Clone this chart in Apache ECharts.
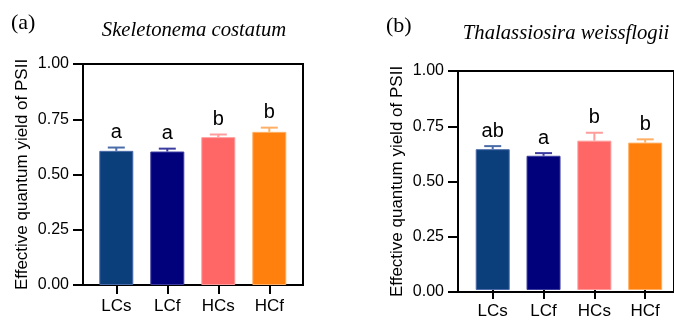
<!DOCTYPE html>
<html>
<head>
<meta charset="utf-8">
<script src="https://cdn.jsdelivr.net/npm/echarts@6/dist/echarts.min.js"></script>
<style>
  html, body { margin: 0; padding: 0; background: #fff; }
  #main { width: 674px; height: 320px; }
</style>
</head>
<body>
<div id="main"></div>
<script>
const categories = ['LCs', 'LCf', 'HCs', 'HCf'];

// (a) Skeletonema costatum
const skeletonemaMean = [0.607, 0.604, 0.669, 0.693];
const skeletonemaErr = [0.015, 0.013, 0.012, 0.019];
const skeletonemaLetters = ['a', 'a', 'b', 'b'];

// (b) Thalassiosira weissflogii
const thalassiosiraMean = [0.643, 0.613, 0.682, 0.673];
const thalassiosiraErr = [0.014, 0.012, 0.036, 0.015];
const thalassiosiraLetters = ['ab', 'a', 'b', 'b'];

const yTicks = [0, 0.25, 0.5, 0.75, 1];

const barColors = ['#0B3F7C', '#01017C', '#FF6666', '#FF800C'];
const errColors = ['#4B6CA8', '#3C3CA0', '#FF9C9C', '#FFB066'];

const SANS = 'Liberation Sans';
const SERIF = 'Liberation Serif';

const chart = echarts.init(document.getElementById('main'));

// frame grid: box + y axis; bar grid: category axis
function frameAxes(gridIndex) {
  const x = {
    gridIndex, type: 'category', data: [''],
    axisLine: { show: true, lineStyle: { color: '#000', width: 2 } },
    axisTick: { show: false }, axisLabel: { show: false }, splitLine: { show: false }
  };
  const y = {
    gridIndex, type: 'value', min: 0, max: 1, interval: 0.25,
    name: 'Effective quantum yield of PSII',
    nameLocation: 'middle', nameGap: 52,
    nameTextStyle: { fontFamily: SANS, fontSize: 17, color: '#000' },
    axisLine: { show: true, lineStyle: { color: '#000', width: 2 } },
    axisTick: { show: true, length: 10, lineStyle: { color: '#000', width: 2 } },
    axisLabel: {
      margin: 14, fontFamily: SANS, fontSize: 16, color: '#000',
      formatter: (v) => yTicks.includes(v) ? v.toFixed(2) : ''
    },
    splitLine: { show: false }
  };
  return [x, y];
}

function barAxes(gridIndex) {
  const x = {
    gridIndex, type: 'category', data: categories,
    axisLine: { show: false },
    axisTick: { show: true, alignWithLabel: true, length: 9, lineStyle: { color: '#000', width: 2 } },
    axisLabel: { margin: 13, fontFamily: SANS, fontSize: 17, color: '#000' },
    splitLine: { show: false }
  };
  const y = {
    gridIndex, type: 'value', min: 0, max: 1, show: false
  };
  return [x, y];
}

const fa = frameAxes(0);
const ba = barAxes(1);
const fb = frameAxes(2);
const bb = barAxes(3);

function makeBars(means, axisIndex) {
  return {
    type: 'bar',
    xAxisIndex: axisIndex, yAxisIndex: axisIndex,
    barWidth: 34,
    data: means.map((v, i) => ({
      value: v,
      itemStyle: { color: barColors[i], borderColor: errColors[i], borderWidth: 1 }
    })),
    z: 2
  };
}

function makeErrors(means, errs, letters, axisIndex) {
  return {
    type: 'custom',
    xAxisIndex: axisIndex, yAxisIndex: axisIndex,
    data: means.map((v, i) => [i, v, errs[i]]),
    encode: { x: 0, y: 1 },
    z: 3,
    clip: false,
    renderItem: (params, api) => {
      const i = params.dataIndex;
      const base = api.coord([api.value(0), api.value(1)]);
      const top = api.coord([api.value(0), api.value(1) + api.value(2)]);
      const c = errColors[i];
      return {
        type: 'group',
        children: [
          { type: 'line', shape: { x1: base[0], y1: base[1], x2: top[0], y2: top[1] },
            style: { stroke: c, lineWidth: 2 } },
          { type: 'line', shape: { x1: top[0] - 8.5, y1: top[1], x2: top[0] + 8.5, y2: top[1] },
            style: { stroke: c, lineWidth: 2 } },
          { type: 'text', x: top[0], y: top[1] - 5,
            style: { text: letters[i], fill: '#000', font: '20px "' + SANS + '"',
              align: 'center', verticalAlign: 'bottom' } }
        ]
      };
    }
  };
}

const titleStyle = { fontFamily: SERIF, fontSize: 22, fontWeight: 'normal', color: '#000' };
const speciesStyle = { fontFamily: SERIF, fontSize: 20.7, fontStyle: 'italic', fontWeight: 'normal', color: '#000' };

const option = {
  animation: false,
  backgroundColor: '#fff',
  title: [
    { text: '(a)', left: 11, top: 12, padding: 0, textStyle: titleStyle },
    { text: 'Skeletonema costatum', left: 194, top: 20, padding: 0, textAlign: 'center', textStyle: speciesStyle },
    { text: '(b)', left: 386, top: 15, padding: 0, textStyle: titleStyle },
    { text: 'Thalassiosira weissflogii', left: 566, top: 23, padding: 0, textAlign: 'center', textStyle: speciesStyle }
  ],
  grid: [
    { left: 83, top: 64, width: 220, height: 221, show: true, borderColor: '#000', borderWidth: 2, backgroundColor: 'transparent' },
    { left: 90.8, top: 64, width: 204, height: 221 },
    { left: 458, top: 71, width: 221, height: 221, show: true, borderColor: '#000', borderWidth: 2, backgroundColor: 'transparent' },
    { left: 467.3, top: 71, width: 203.3, height: 221 }
  ],
  xAxis: [fa[0], ba[0], fb[0], bb[0]],
  yAxis: [fa[1], ba[1], fb[1], bb[1]],
  series: [
    makeBars(skeletonemaMean, 1),
    makeErrors(skeletonemaMean, skeletonemaErr, skeletonemaLetters, 1),
    makeBars(thalassiosiraMean, 3),
    makeErrors(thalassiosiraMean, thalassiosiraErr, thalassiosiraLetters, 3)
  ]
};

chart.setOption(option);
</script>
</body>
</html>
